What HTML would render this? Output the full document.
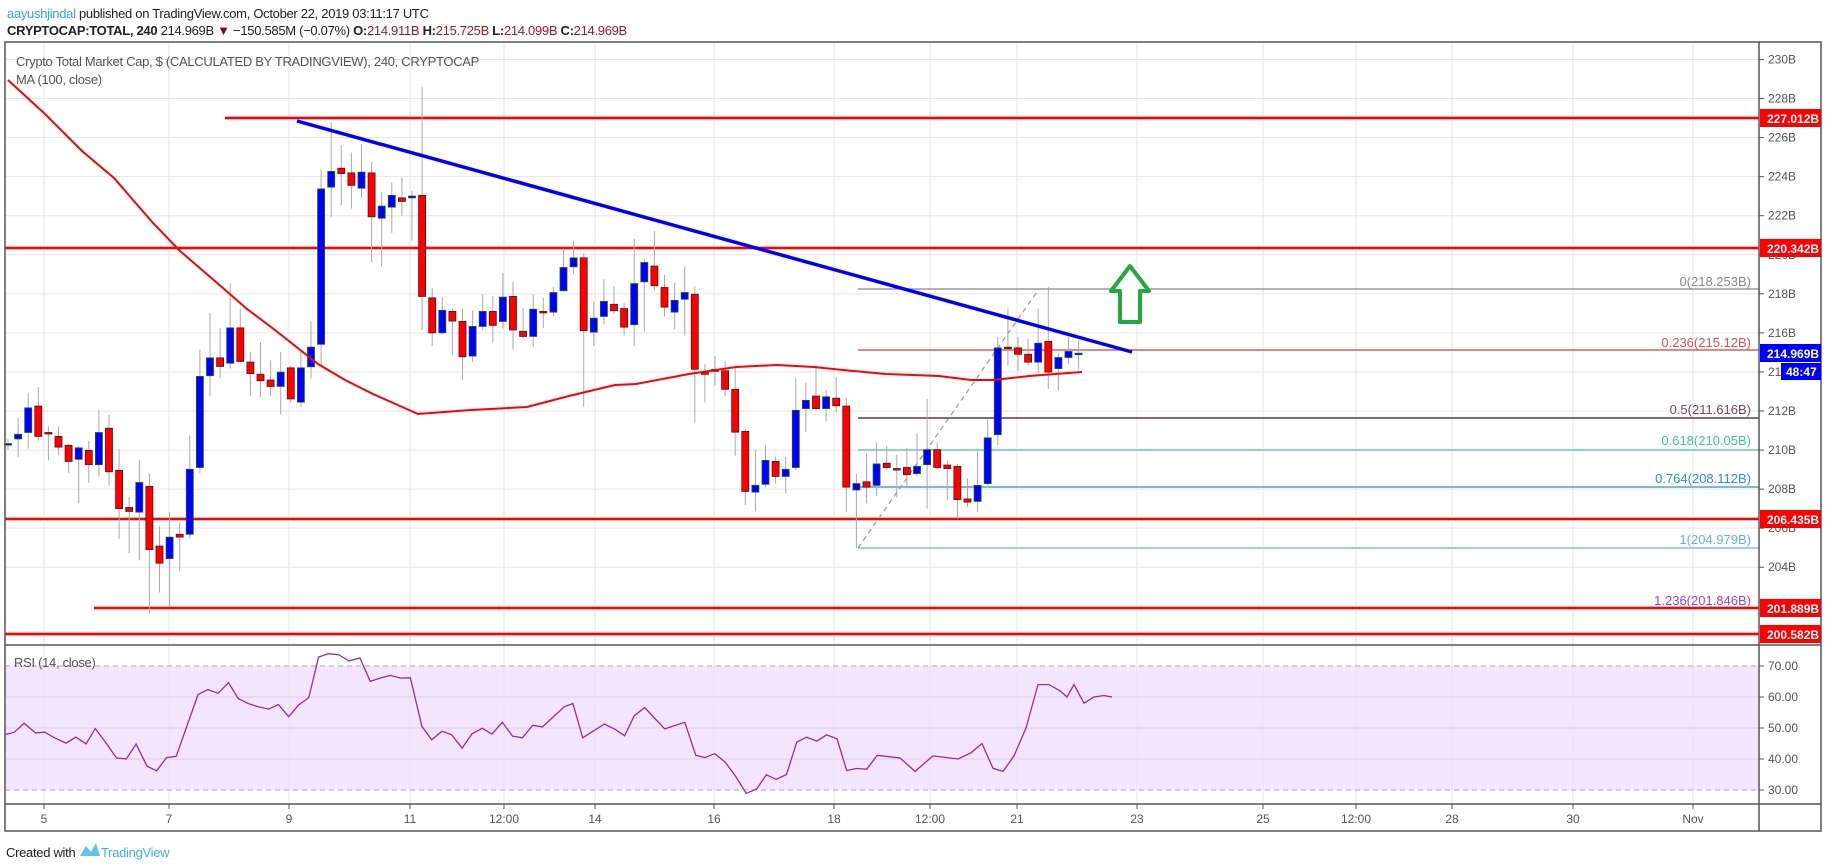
<!DOCTYPE html>
<html><head><meta charset="utf-8"><style>
html,body{margin:0;padding:0;background:#fff;}
svg{display:block;font-family:"Liberation Sans",sans-serif;}
</style></head><body>
<svg id="s" width="1828" height="868" viewBox="0 0 1828 868" xmlns="http://www.w3.org/2000/svg">
<rect width="1828" height="868" fill="#fff"/>
<text x="7" y="18" font-size="13" letter-spacing="-0.3"><tspan fill="#2ea7e0">aayushjindal</tspan><tspan fill="#222"> published on TradingView.com, October 22, 2019 03:11:17 UTC</tspan></text>
<text x="7" y="35" font-size="13" letter-spacing="-0.3" fill="#222"><tspan font-weight="bold">CRYPTOCAP:TOTAL, 240</tspan> 214.969B <tspan fill="#8b0000">▼</tspan> −150.585M (−0.07%) <tspan font-weight="bold">O:</tspan><tspan fill="#b0141b">214.911B</tspan> <tspan font-weight="bold">H:</tspan><tspan fill="#b0141b">215.725B</tspan> <tspan font-weight="bold">L:</tspan><tspan fill="#b0141b">214.099B</tspan> <tspan font-weight="bold">C:</tspan><tspan fill="#b0141b">214.969B</tspan></text>
<g id="g"></g>
<text x="6" y="857" font-size="13" fill="#222" letter-spacing="-0.3">Created with</text>
<path d="M80 856 L86 846 L91 852 L96 843 L100 856 Z" fill="#5fc3ee"/>
<text x="101" y="857" font-size="13" fill="#3bb3e4" letter-spacing="-0.3">TradingView</text>
</svg>
<script>
const g=document.getElementById('g');let h='';
const L=5,R=1759,T=42,PB=645,RB=804,AB=831,RR=1821;
const yp=p=>634-(p-200.582)*19.53;
const yr=v=>666+(70-v)*3.1;
const dx=[[44,'5'],[169,'7'],[289,'9'],[410,'11'],[504,'12:00'],[595,'14'],[714,'16'],[834,'18'],[930,'12:00'],[1017,'21'],[1137,'23'],[1263,'25'],[1356,'12:00'],[1452,'28'],[1573,'30'],[1693,'Nov']];
// RSI bg
h+=`<rect x="${L}" y="${yr(70)}" width="${R-L}" height="${yr(30)-yr(70)}" fill="#f3e6fc"/>`;
// grids
for(let p=204;p<=230;p+=2){const y=yp(p);h+=`<line x1="${L}" x2="${R}" y1="${y}" y2="${y}" stroke="#e6e6e6"/>`;}
[60,50,40].forEach(v=>{h+=`<line x1="${L}" x2="${R}" y1="${yr(v)}" y2="${yr(v)}" stroke="#ddd0e6"/>`;});
dx.forEach(([x])=>{h+=`<line x1="${x}" x2="${x}" y1="${T}" y2="${RB}" stroke="#e6e6e6"/>`;});
[70,30].forEach(v=>{h+=`<line x1="${L}" x2="${R}" y1="${yr(v)}" y2="${yr(v)}" stroke="#aaa" stroke-dasharray="5,4"/>`;});
// title
h+=`<text x="16" y="66" font-size="13" fill="#555" letter-spacing="-0.3">Crypto Total Market Cap, $ (CALCULATED BY TRADINGVIEW), 240, CRYPTOCAP</text>`;
h+=`<text x="16" y="84" font-size="13" fill="#555" letter-spacing="-0.3">MA (100, close)</text>`;
h+=`<text x="14" y="667" font-size="13" fill="#555" letter-spacing="-0.3">RSI (14, close)</text>`;
// red lines
function rl(x1,y){h+=`<line x1="${x1}" x2="${R}" y1="${y}" y2="${y}" stroke="#ffb0b0" stroke-width="4"/><line x1="${x1}" x2="${R}" y1="${y}" y2="${y}" stroke="#f00" stroke-width="2"/>`;}
// fib lines
const fx=858;
[[289,'#888'],[350,'#e53935'],[418,'#4a0e24'],[450,'#3dc79a'],[487,'#2b8fd0'],[548,'#62b4e8'],[608,'#9c27b0']].forEach(([y,c])=>{h+=`<line x1="${fx}" x2="${R}" y1="${y}" y2="${y}" stroke="${c}" stroke-width="1.3"/>`;});
h+=`<line x1="${fx}" y1="548" x2="1039" y2="289" stroke="#999" stroke-width="1.2" stroke-dasharray="5,4"/>`;
[[286,'#888','0(218.253B)'],[347,'#e05050','0.236(215.12B)'],[414,'#7a4a5a','0.5(211.616B)'],[445,'#3dc79a','0.618(210.05B)'],[483,'#2b8fd0','0.764(208.112B)'],[544,'#62b4e8','1(204.979B)'],[605,'#a040d0','1.236(201.846B)']].forEach(([y,c,t])=>{h+=`<text x="1751" y="${y}" font-size="13" fill="${c}" text-anchor="end">${t}</text>`;});
rl(225,118);rl(L,248);rl(L,519);rl(94,608);rl(L,634);
// candles
const C=[[1018,1022,'b',1005,1035],[992,1005,'b',945,1055],[918,987,'b',877,1032],[913,998,'r',860,1010],[987,990,'r',970,1065],[998,1028,'r',970,1050],[1023,1068,'r',1020,1100],[1030,1062,'b',1025,1185],[1037,1077,'r',1010,1128],[987,1077,'b',925,1110],[975,1097,'r',938,1135],[1093,1200,'r',1033,1285],[1197,1208,'r',1168,1325],[1127,1210,'b',1065,1345],[1138,1315,'r',1103,1495],[1305,1353,'r',1250,1435],[1280,1340,'b',1210,1475],[1272,1280,'r',1240,1375],[1090,1272,'b',995,1285],[830,1085,'b',755,1100],[778,828,'b',652,885],[778,802,'r',695,835],[694,793,'b',570,808],[694,788,'r',640,790],[790,822,'r',762,885],[824,842,'r',735,888],[840,858,'r',785,885],[818,858,'b',762,937],[806,893,'r',800,905],[806,902,'b',760,915],[748,803,'b',675,835],[305,740,'b',250,800],[256,300,'b',118,383],[247,262,'r',183,350],[260,295,'r',203,360],[258,303,'b',180,330],[260,383,'r',230,510],[353,387,'b',313,523],[323,356,'b',288,428],[330,340,'r',273,380],[325,330,'b',310,450],[323,606,'r',20,700],[610,708,'r',582,745],[645,708,'b',608,712],[648,675,'r',640,770],[676,775,'r',640,840],[690,773,'b',645,790],[648,690,'b',600,700],[648,687,'r',605,735],[608,676,'b',540,696],[606,700,'r',566,755],[704,718,'r',638,724],[642,718,'b',600,748],[648,651,'r',610,695],[595,650,'b',580,662],[525,590,'b',472,592],[498,523,'b',450,543],[498,702,'r',485,915],[667,706,'b',620,745],[620,662,'b',558,685],[628,646,'r',578,655],
[640,692,'r',625,715],[570,685,'b',445,745],[511,565,'b',500,705],[521,576,'r',423,590],[581,636,'r',546,662],[617,650,'b',568,698],[595,614,'b',522,715],[600,810,'r',578,958],[818,824,'r',796,903],[810,816,'b',773,856],[814,866,'r',787,885],[866,986,'r',805,1052],[984,1152,'r',978,1190],[1135,1154,'b',1035,1208],[1065,1132,'b',1022,1140],[1068,1110,'r',1055,1130],[1090,1110,'b',1055,1158],[925,1085,'b',835,1092],[897,920,'b',848,985],[885,920,'r',800,925],[887,920,'b',868,955],[891,912,'r',832,930],[913,1140,'r',890,1210],[1130,1148,'b',1103,1310],[1125,1140,'r',1045,1185],[1075,1135,'b',1015,1165],[1073,1085,'r',1025,1090],[1088,1091,'r',1050,1170],[1085,1105,'r',1030,1140],[1082,1102,'b',990,1110],[1035,1077,'b',893,1200],[1035,1085,'r',1015,1090],[1078,1088,'r',1065,1175],[1082,1175,'r',1075,1228],[1173,1182,'r',1115,1195],[1135,1180,'b',1040,1210],[1002,1130,'b',950,1135],[750,993,'b',720,1022],[748,752,'r',640,800],[750,768,'r',720,815],[768,790,'r',725,800],[737,790,'b',640,820],[732,818,'r',580,865],[777,808,'b',765,870],[760,777,'b',720,795],[765,768,'b',730,810]];
const cy=v=>80+v/2.8;
C.forEach((c,i)=>{const x=8+i*10.1;const t=cy(c[0]),b=Math.max(cy(c[1]),t+1.5);
h+=`<line x1="${x}" x2="${x}" y1="${cy(c[3])}" y2="${cy(c[4])}" stroke="#aaa"/>`;
const f=c[2]=='b'?'#0000ff':'#ff0000',s=c[2]=='b'?'#1e5a2a':'#5a1010';
h+=`<rect x="${x-3.5}" y="${t}" width="7" height="${b-t}" fill="${f}" stroke="${s}" stroke-width="0.8"/>`;});
// MA
const ma=[[8,80],[45,114],[82,151],[114,178],[153,223],[180,251],[216,282],[247,309],[275,330],[318,364],[345,380],[373,394],[418,414],[471,410],[527,407],[569,396],[615,385],[636,384],[689,374],[736,367],[777,365],[814,367],[843,370],[886,374],[939,376],[971,380],[993,380],[1029,376],[1082,372]];
h+=`<polyline points="${ma.map(p=>p.join(',')).join(' ')}" fill="none" stroke="#f00" stroke-width="2"/>`;
// trendline
h+=`<line x1="297" y1="121" x2="1132" y2="352" stroke="#0000ff" stroke-width="3.5"/>`;
// arrow
h+=`<path d="M1130 266 L1149 291 L1140 291 L1140 322 L1120 322 L1120 291 L1111 291 Z" fill="#fff" stroke="#23a93f" stroke-width="4" stroke-linejoin="round"/>`;
// RSI
const r1=[[10,347],[25,340],[42,313],[62,342],[78,340],[95,357],[115,373],[132,355],[150,375],[166,329],[185,373],[203,418],[220,421],[237,376],[256,443],[273,457],[290,417],[307,413],[345,226],[362,211],[380,222],[398,190],[415,238],[432,253],[450,263],[468,270],[485,256],[503,293],[520,258],[538,235],[555,112],[572,102],[590,105],[608,124],[627,115],[645,186],[662,176],[680,168],[698,176],[715,175],[735,322],[752,363],[770,337],[787,348],[805,388],[822,345],[840,328],[857,346],[875,310],[893,352],[910,357],[928,319],[945,324],[963,295],[983,263],[998,253],[1015,357],[1035,335],[1053,315],[1072,332],[1088,351],[1105,290],[1123,265],[1140,297],[1158,330],[1175,320],[1193,310],[1212,410],[1228,417],[1245,405],[1263,430],[1282,475],[1300,525],[1318,512],[1335,469],[1352,483],[1370,468],[1388,370],[1405,355],[1423,367],[1440,348],[1458,360],[1475,456],[1492,450],[1510,452],[1528,410],[1568,418]].map(([x,y])=>[x/1.742,620+y/3.03]);
[[915,36],[933,41],[958,40],[971,42],[982,45],[993,37],[1003,36],[1014,41],[1026,50],[1038,64],[1049,64],[1060,62],[1067,60],[1074,64],[1084,58],[1094,60],[1104,60.5],[1112,60]].forEach(([x,v])=>r1.push([x,yr(v)]));
h+=`<polyline points="${r1.map(p=>p[0].toFixed(1)+','+p[1].toFixed(1)).join(' ')}" fill="none" stroke="#9c27b0" stroke-width="1.3"/>`;
// frame
h+=`<rect x="${L}" y="${T}" width="${RR-L}" height="${AB-T}" fill="none" stroke="#555" stroke-width="1.5"/>`;
h+=`<line x1="${R}" x2="${R}" y1="${T}" y2="${AB}" stroke="#555" stroke-width="1.5"/>`;
h+=`<line x1="${L}" x2="${RR}" y1="${PB}" y2="${PB}" stroke="#555" stroke-width="1.5"/>`;
h+=`<line x1="${L}" x2="${RR}" y1="${RB}" y2="${RB}" stroke="#555" stroke-width="1.5"/>`;
// axis labels
for(let p=204;p<=230;p+=2){const y=yp(p);h+=`<line x1="${R}" x2="${R+5}" y1="${y}" y2="${y}" stroke="#555"/><text x="${R+9}" y="${y+4}" font-size="12" fill="#555">${p}B</text>`;}
[70,60,50,40,30].forEach(v=>{const y=yr(v);h+=`<line x1="${R}" x2="${R+5}" y1="${y}" y2="${y}" stroke="#555"/><text x="${R+9}" y="${y+4}" font-size="12" fill="#555">${v}.00</text>`;});
dx.forEach(([x,t])=>{h+=`<line x1="${x}" x2="${x}" y1="${RB}" y2="${RB+5}" stroke="#555"/><text x="${x}" y="823" font-size="12" fill="#555" text-anchor="middle">${t}</text>`;});
[[118,'227.012B'],[248,'220.342B'],[519,'206.435B'],[608,'201.889B'],[634,'200.582B']].forEach(([y,t])=>{h+=`<rect x="${R+1}" y="${y-9}" width="${RR-R-1}" height="18" fill="#f00"/><text x="${R+8}" y="${y+5}" font-size="12" font-weight="bold" fill="#fff">${t}</text>`;});
h+=`<rect x="${R+1}" y="344" width="${RR-R-1}" height="18" fill="#0000ff"/><text x="${R+8}" y="358" font-size="12" font-weight="bold" fill="#fff">214.969B</text>`;
h+=`<rect x="1781" y="363" width="${RR-1781}" height="17" fill="#0000ff"/><text x="1786" y="376" font-size="12" font-weight="bold" fill="#fff">48:47</text>`;
g.innerHTML=h;
</script>
</body></html>
